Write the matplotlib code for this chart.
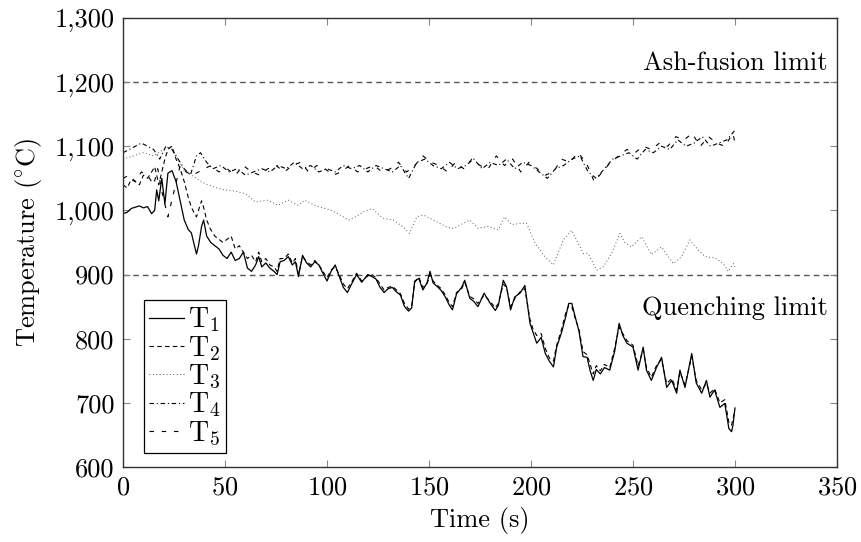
import matplotlib
matplotlib.use("Agg")
import matplotlib.pyplot as plt
from matplotlib.ticker import FuncFormatter

plt.rcParams['font.family'] = 'serif'
plt.rcParams['font.serif'] = ['cmr10']
plt.rcParams['mathtext.fontset'] = 'cm'
plt.rcParams['axes.formatter.use_mathtext'] = True
plt.rcParams['font.size'] = 19

# time (s) and temperatures (degC)
t12 = [0, 2, 4, 6, 8, 10, 12, 14, 15.5, 16.5, 17.5, 19, 20.5, 22, 24, 26, 28, 30, 32, 33.5,
       35, 36, 37, 38.5, 39.5, 41, 43, 45, 47, 49, 51, 53, 55, 57, 59, 61, 63, 65, 66.5, 68,
       70, 72, 74, 75.5, 77, 79, 81, 83, 84.5, 86, 88, 90, 92, 94, 96, 98, 100, 102, 104, 106,
       108, 110, 112, 114.5, 117, 120, 122, 124, 126, 128, 130, 132, 134, 136, 138, 140, 141.5, 143, 145, 147,
       149, 150.5, 152, 154.5, 156, 158, 160, 161.5, 163.5, 166, 167.5, 170, 172, 174, 177, 180, 182.5, 184, 186.4, 188,
       190, 192, 194.6, 197, 199.5, 201, 202.8, 205, 207, 209, 211, 212.6, 215, 217, 218.5, 220, 222, 223.5, 225.5, 227.5,
       229, 230.5, 232, 234, 236, 238.6, 241, 243.2, 245, 247, 250, 252.5, 255, 256.6, 259, 261.5, 264, 266.5, 269, 271.4,
       273, 275.5, 278.8, 281, 283.7, 286, 287.7, 290, 292.6, 295, 297, 298.3, 299, 300]
T1 = [995, 997, 1003, 1005, 1007, 1004, 1006, 995, 1000, 1032, 1015, 1050, 1010, 1058, 1062, 1045, 1015, 985, 970, 965,
      945, 932, 945, 975, 985, 960, 950, 945, 940, 930, 925, 935, 922, 925, 935, 910, 905, 915, 928, 912,
      918, 910, 905, 900, 920, 922, 928, 915, 920, 897, 930, 918, 912, 920, 915, 902, 890, 905, 915, 897,
      880, 872, 885, 900, 888, 900, 897, 893, 880, 872, 878, 880, 873, 868, 850, 843, 848, 890, 894, 876,
      887, 905, 887, 880, 875, 865, 852, 845, 870, 880, 891, 863, 858, 850, 871, 855, 844, 852, 891, 881,
      845, 865, 871, 883, 824, 810, 793, 802, 777, 765, 756, 787, 810, 834, 855, 855, 830, 812, 772, 771,
      750, 735, 752, 745, 755, 751, 780, 824, 805, 793, 787, 751, 787, 751, 735, 755, 771, 724, 735, 715,
      751, 724, 777, 731, 715, 735, 709, 720, 693, 699, 660, 655, 665, 692]
T2 = [1040, 1035, 1048, 1045, 1040, 1055, 1050, 1060, 1068, 1055, 1040, 1060, 1080, 1095, 1100, 1080, 1065, 1045, 1020, 1005,
      995, 990, 1000, 1015, 1005, 985, 970, 960, 955, 950, 955, 960, 940, 945, 935, 925, 930, 920, 935, 920,
      925, 915, 912, 905, 925, 925, 932, 918, 925, 900, 928, 920, 915, 922, 915, 905, 895, 907, 912, 900,
      885, 878, 888, 902, 890, 898, 900, 895, 885, 876, 880, 882, 876, 870, 855, 846, 852, 888, 896, 880,
      885, 900, 890, 882, 878, 868, 856, 850, 872, 878, 888, 866, 862, 855, 868, 858, 848, 855, 885, 880,
      850, 862, 873, 878, 830, 815, 805, 808, 785, 770, 765, 790, 815, 840, 852, 850, 828, 815, 780, 775,
      760, 745, 758, 750, 760, 755, 785, 818, 808, 797, 790, 758, 783, 755, 740, 758, 768, 730, 738, 720,
      748, 728, 772, 735, 720, 730, 715, 722, 700, 705, 670, 665, 675, 688]

t3 = [0, 5, 10, 15, 20, 23, 26, 30, 35, 40, 45, 50, 55, 60, 65, 71, 76, 81, 86, 89,
      94, 98, 102, 107, 110.5, 114, 118, 122, 127.5, 132.5, 137.4, 140.4, 144, 147.2, 152.2, 158.7, 162, 166.9, 170, 174,
      179, 184, 187, 190.5, 195.4, 197.8, 202, 206.8, 211, 215.8, 220, 225.6, 228, 232.2, 235.4, 239.5, 243.6, 246, 249.3, 254.2,
      259, 264, 269.8, 273.8, 277.9, 282, 285.3, 290.2, 294.3, 296.7, 299.2, 300]
T3 = [1080, 1085, 1090, 1085, 1095, 1100, 1085, 1062, 1052, 1042, 1036, 1032, 1030, 1026, 1013, 1016, 1008, 1016, 1008, 1016,
      1008, 1004, 1000, 992, 985, 990, 998, 1003, 988, 985, 974, 964, 990, 993, 985, 974, 972, 980, 985, 972,
      975, 970, 990, 978, 980, 980, 949, 928, 915, 954, 969, 933, 933, 907, 912, 933, 964, 950, 943, 959,
      931, 943, 917, 928, 954, 938, 928, 926, 917, 905, 917, 912]

t4 = [0, 3, 6, 9, 12, 15, 18, 21, 24, 27, 30, 33, 36, 38, 41, 44, 48, 52, 56, 60,
      64, 68, 72, 76, 80, 84, 88, 92, 96, 100, 104, 108, 112, 116, 120, 124, 128, 132, 136, 140,
      144, 148, 152, 156, 160, 164, 168, 172, 176, 180, 184, 188, 192, 196, 200, 204, 208, 212, 216, 220,
      224, 228, 232, 236, 240, 244, 248, 252, 256, 260, 264, 268, 272, 276, 280, 284, 288, 292, 296, 300]
T4 = [1090, 1095, 1100, 1105, 1100, 1095, 1080, 1100, 1095, 1080, 1065, 1055, 1085, 1090, 1075, 1065, 1070, 1060, 1065, 1055,
      1060, 1065, 1060, 1070, 1065, 1075, 1065, 1070, 1060, 1065, 1060, 1070, 1065, 1070, 1060, 1070, 1065, 1060, 1070, 1050,
      1075, 1080, 1070, 1065, 1075, 1065, 1070, 1080, 1065, 1075, 1070, 1080, 1065, 1075, 1070, 1060, 1050, 1065, 1070, 1080,
      1085, 1060, 1050, 1065, 1080, 1085, 1090, 1080, 1095, 1090, 1100, 1095, 1110, 1100, 1105, 1115, 1100, 1105, 1110, 1125]

t5 = [0, 3, 6, 9, 12, 15, 17, 19, 22, 25, 28, 31, 34, 37, 40, 43, 47, 51, 55, 59,
      63, 67, 71, 75, 79, 83, 87, 91, 95, 99, 103, 107, 111, 115, 119, 123, 127, 131, 135, 139,
      143, 147, 151, 155, 159, 163, 167, 171, 175, 179, 183, 187, 191, 195, 199, 203, 207, 211, 215, 219,
      223, 227, 231, 235, 239, 243, 247, 251, 255, 259, 263, 267, 271, 275, 279, 283, 287, 291, 295, 299, 300]
T5 = [1050, 1055, 1045, 1060, 1055, 1040, 1065, 1030, 990, 1030, 1070, 1060, 1055, 1060, 1065, 1070, 1060, 1065, 1055, 1070,
      1060, 1055, 1065, 1070, 1060, 1070, 1075, 1060, 1070, 1065, 1055, 1060, 1070, 1060, 1065, 1070, 1060, 1065, 1075, 1060,
      1070, 1085, 1075, 1070, 1060, 1075, 1065, 1080, 1070, 1065, 1085, 1070, 1080, 1060, 1075, 1065, 1055, 1060, 1080, 1075,
      1090, 1075, 1045, 1060, 1075, 1085, 1095, 1090, 1100, 1095, 1105, 1100, 1115, 1110, 1120, 1100, 1115, 1105, 1100, 1120, 1105]

ash_limit = 1200
quench_limit = 900

fig = plt.figure(figsize=(8.61, 5.42), dpi=100)
ax = fig.add_axes([0.1429, 0.1384, 0.8292, 0.8284])

ax.axhline(ash_limit, color='#555555', lw=1.0, ls=(0, (4, 3)), zorder=1)
ax.axhline(quench_limit, color='#555555', lw=1.0, ls=(0, (4, 3)), zorder=1)

ax.plot(t12, T1, color='black', lw=0.9, ls='-', label='T$_1$')
ax.plot(t12, T2, color='black', lw=0.8, ls=(0, (4, 3)), label='T$_2$')
ax.plot(t3, T3, color='#555555', lw=0.7, ls=(0, (1, 2.5)), label='T$_3$')
ax.plot(t4, T4, color='black', lw=0.8, ls=(0, (4, 2.5, 1, 2.5)), label='T$_4$')
ax.plot(t5, T5, color='black', lw=0.8, ls=(0, (4, 7)), label='T$_5$')

ax.text(345.5, 1211, 'Ash-fusion limit', ha='right', va='bottom', fontsize=19)
ax.text(345.5, 848, 'Quenching limit', ha='right', va='center', fontsize=19)

ax.set_xlim(0, 350)
ax.set_ylim(600, 1300)
ax.set_xticks(range(0, 351, 50))
ax.set_yticks(range(600, 1301, 100))
ax.yaxis.set_major_formatter(FuncFormatter(lambda v, p: '{:,.0f}'.format(v)))
ax.tick_params(direction='in', length=5, width=0.8, color='#888888',
               top=True, right=True, labelsize=19, pad=6)
for s in ax.spines.values():
    s.set_linewidth(1.0)
    s.set_color('#333333')

ax.set_xlabel('Time (s)', fontsize=19, labelpad=6)
ax.set_ylabel(r'Temperature ($^{\circ}$C)', fontsize=19, labelpad=8)

leg = ax.legend(loc='lower left', bbox_to_anchor=(0.029, 0.031), frameon=True, fancybox=False,
                edgecolor='black', framealpha=1, handlelength=1.25, handletextpad=0.15,
                labelspacing=0.0, borderpad=0.2, borderaxespad=0, fontsize=20)
leg.get_frame().set_linewidth(0.9)

fig.savefig('out.png', dpi=100)
